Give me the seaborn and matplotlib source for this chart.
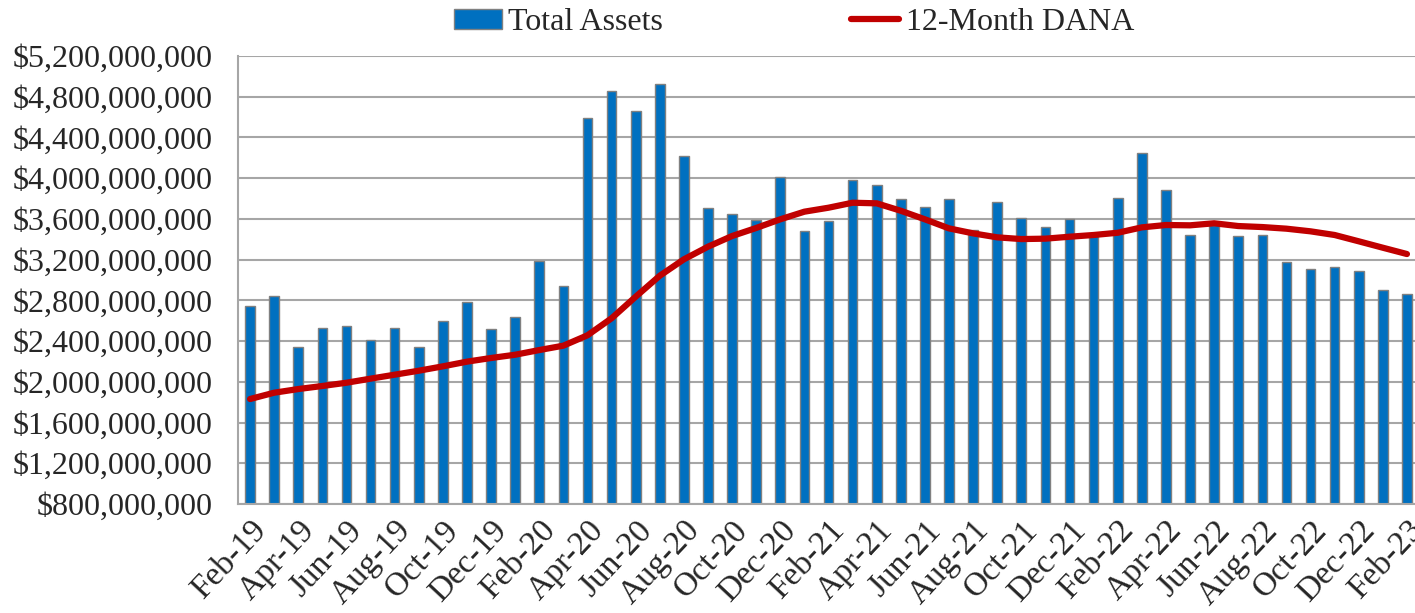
from matplotlib import pyplot as plt
from matplotlib.lines import Line2D
from matplotlib.patches import Patch
from matplotlib.ticker import FuncFormatter
import numpy as np
import seaborn as sns

months = ['Feb-19', 'Mar-19', 'Apr-19', 'May-19', 'Jun-19', 'Jul-19', 'Aug-19',
          'Sep-19', 'Oct-19', 'Nov-19', 'Dec-19', 'Jan-20', 'Feb-20', 'Mar-20',
          'Apr-20', 'May-20', 'Jun-20', 'Jul-20', 'Aug-20', 'Sep-20', 'Oct-20',
          'Nov-20', 'Dec-20', 'Jan-21', 'Feb-21', 'Mar-21', 'Apr-21', 'May-21',
          'Jun-21', 'Jul-21', 'Aug-21', 'Sep-21', 'Oct-21', 'Nov-21', 'Dec-21',
          'Jan-22', 'Feb-22', 'Mar-22', 'Apr-22', 'May-22', 'Jun-22', 'Jul-22',
          'Aug-22', 'Sep-22', 'Oct-22', 'Nov-22', 'Dec-22', 'Jan-23', 'Feb-23']

# values in millions of dollars
total_assets = [2747, 2846, 2342, 2525, 2548, 2411, 2525, 2345, 2594, 2781,
                2522, 2639, 3189, 2941, 4594, 4856, 4660, 4925, 4218, 3710,
                3651, 3586, 4014, 3478, 3578, 3982, 3930, 3795, 3720, 3793,
                3491, 3766, 3612, 3517, 3599, 3440, 3808, 4244, 3881, 3442,
                3540, 3429, 3445, 3180, 3111, 3128, 3088, 2899, 2862]

dana_12m = [1831, 1893, 1929, 1959, 1991, 2031, 2070, 2109, 2152, 2198,
            2234, 2266, 2312, 2355, 2457, 2624, 2836, 3042, 3203, 3327,
            3432, 3511, 3596, 3671, 3710, 3759, 3753, 3680, 3596, 3507,
            3458, 3419, 3402, 3406, 3425, 3442, 3464, 3517, 3540, 3537,
            3557, 3530, 3520, 3504, 3478, 3442, 3380, 3317, 3255]

BLUE = '#0070C0'
RED = '#C00000'
GRID = '#A6A6A6'

sns.set_style('white')
plt.rcParams['font.family'] = ['Liberation Serif', 'DejaVu Serif']

fig = plt.figure(figsize=(14.15, 6.13), dpi=100)
ax = fig.add_axes([238 / 1415, 109 / 613, 1181 / 1415, 448 / 613])

assets = np.array(total_assets) * 1e6
dana = np.array(dana_12m) * 1e6
idx = np.arange(len(months))

sns.barplot(x=idx, y=assets, color=BLUE, width=0.4, edgecolor='#808080',
            linewidth=1.0, saturation=1, ax=ax, zorder=2)
sns.lineplot(x=idx, y=dana, color=RED, linewidth=4.5, ax=ax, zorder=3)

ax.set_xlim(-0.5, len(months) - 0.5)
ax.set_ylim(800e6, 5200e6)
ax.set_yticks(np.arange(800e6, 5200e6 + 1, 400e6))
ax.yaxis.set_major_formatter(FuncFormatter(lambda v, p: '${:,.0f}'.format(v)))
ax.set_xticks(idx[::2])
ax.set_xticklabels(months[::2], rotation=47, ha='right', rotation_mode='anchor')
ax.tick_params(axis='y', labelsize=23, length=0, pad=18)
ax.tick_params(axis='x', labelsize=24, length=0, pad=8)
ax.set_xlabel('')
ax.set_ylabel('')

ax.grid(axis='y', color=GRID, linewidth=1.5, zorder=0)
ax.set_axisbelow(True)
for side in ['top', 'right']:
    ax.spines[side].set_visible(False)
for side in ['left', 'bottom']:
    ax.spines[side].set_color(GRID)
    ax.spines[side].set_linewidth(1.5)

handles = [Patch(facecolor=BLUE, edgecolor='#808080', linewidth=1.0),
           Line2D([], [], color=RED, linewidth=4.5, solid_capstyle='round')]
fig.legend(handles, ['Total Assets', '12-Month DANA'], loc='center',
           bbox_to_anchor=(0.561, 0.963), ncol=2, frameon=False, fontsize=23,
           columnspacing=5.9, handlelength=1.5, handletextpad=0.2,
           handleheight=0.6)

fig.savefig('out.png', dpi=100)
